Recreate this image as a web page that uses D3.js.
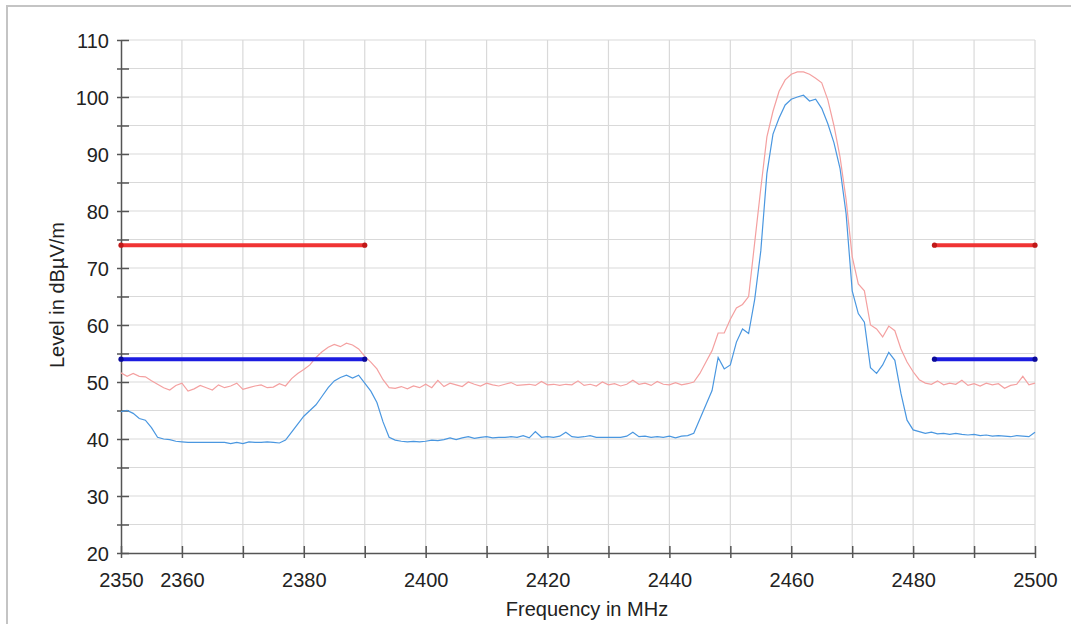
<!DOCTYPE html>
<html>
<head>
<meta charset="utf-8">
<script src="https://cdn.jsdelivr.net/npm/d3@7"></script>
<style>
  body { margin: 0; background: #fff; }
  svg text { font-family: "Liberation Sans", Arial, sans-serif; fill: #222; }
</style>
</head>
<body>
<div id="chart"></div>
<script>
// sweep: 2350 .. 2500 MHz, 1 MHz per point
const START_FREQ = 2350;

// blue trace (average detector), dBuV/m
const avgLevel = [
  44.8, 45.0, 44.5, 43.6, 43.3, 42.0, 40.3, 40.0, 39.9, 39.6,
  39.5, 39.4, 39.4, 39.4, 39.4, 39.4, 39.4, 39.4, 39.2, 39.4,
  39.2, 39.5, 39.4, 39.4, 39.5, 39.4, 39.3, 39.8, 41.2, 42.6,
  44.0, 45.0, 46.0, 47.5, 49.0, 50.2, 50.8, 51.2, 50.7, 51.2,
  49.8, 48.4, 46.4, 43.0, 40.3, 39.8, 39.6, 39.5, 39.6, 39.5,
  39.6, 39.8, 39.7, 39.9, 40.2, 39.9, 40.2, 40.4, 40.1, 40.3,
  40.4, 40.2, 40.3, 40.3, 40.4, 40.3, 40.6, 40.2, 41.3, 40.3,
  40.4, 40.3, 40.5, 41.2, 40.4, 40.3, 40.4, 40.6, 40.3, 40.3,
  40.3, 40.3, 40.3, 40.5, 41.2, 40.4, 40.5, 40.3, 40.4, 40.3,
  40.5, 40.2, 40.5, 40.6, 41.0, 43.5, 46.0, 48.5, 54.3, 52.3,
  53.0, 57.0, 59.3, 58.5, 64.5, 73.0, 86.6, 93.5, 96.3, 98.6,
  99.6, 100.0, 100.3, 99.3, 99.6, 98.0, 95.3, 92.0, 87.5, 79.5,
  66.0, 62.0, 60.5, 52.5, 51.5, 53.0, 55.2, 53.8, 48.0, 43.3,
  41.6, 41.3, 41.0, 41.2, 40.9, 41.0, 40.8, 41.0, 40.8, 40.7,
  40.8, 40.6, 40.7, 40.5, 40.6, 40.5, 40.4, 40.6, 40.5, 40.4,
  41.2
];

// red trace (peak detector), dBuV/m
const peakLevel = [
  51.6, 51.0, 51.5, 51.0, 50.9, 50.2, 49.6, 49.0, 48.6, 49.4,
  49.8, 48.4, 48.8, 49.4, 49.0, 48.6, 49.5, 49.0, 49.3, 49.8,
  48.7, 49.0, 49.3, 49.5, 49.0, 49.1, 49.7, 49.3, 50.6, 51.5,
  52.2, 53.0, 54.3, 55.3, 56.1, 56.6, 56.2, 56.8, 56.5, 55.8,
  54.5, 53.5, 52.3, 50.4, 49.0, 48.9, 49.2, 48.8, 49.3, 49.0,
  49.6, 49.0, 50.3, 49.2, 49.8, 49.5, 49.2, 50.0, 49.6, 49.3,
  49.8, 49.5, 49.3, 49.6, 49.9, 49.4, 49.5, 49.6, 49.4, 50.1,
  49.5, 49.6, 49.4, 49.6, 49.5, 50.2, 49.4, 49.6, 49.3, 50.0,
  49.5, 49.7, 49.3, 49.6, 50.3, 49.6, 49.8, 49.4, 50.1, 49.6,
  49.5, 49.9, 49.5, 49.7, 50.0, 51.5, 53.5, 55.5, 58.6, 58.6,
  61.0, 63.0, 63.6, 65.0, 74.5, 84.0, 93.0, 97.5, 101.0, 103.0,
  104.0, 104.4, 104.4, 104.0, 103.3, 102.5, 99.5, 95.0, 89.5, 82.0,
  72.0, 67.2, 66.0, 60.0, 59.3, 57.9, 59.8, 59.0, 55.8, 53.5,
  51.8, 50.4, 49.8, 49.6, 50.2, 49.5, 49.8, 49.6, 50.3, 49.4,
  49.7, 49.3, 49.8, 49.5, 49.7, 48.9, 49.4, 49.6, 51.0, 49.5,
  49.8
];

// restricted band limits
const peakLimit = [
  { from: 2350, to: 2390, level: 74 },
  { from: 2483.5, to: 2500, level: 74 }
];
const avgLimit = [
  { from: 2350, to: 2390, level: 54 },
  { from: 2483.5, to: 2500, level: 54 }
];

const xTicks = d3.range(2350, 2501, 10);
const xTickLabels = [2350, 2360, 2380, 2400, 2420, 2440, 2460, 2480, 2500];
const yTicks = d3.range(20, 111, 5);
const yTickLabels = [20, 30, 40, 50, 60, 70, 80, 90, 100, 110];

const width = 1071, height = 624;
const plotLeft = 121, plotRight = 1035, plotTop = 40, plotBottom = 553;

const svg = d3.select("#chart").append("svg")
  .attr("width", width).attr("height", height);

// outer frame
svg.append("path")
  .attr("d", `M7,${height} V6 H${width}`)
  .attr("fill", "none").attr("stroke", "#c4c4c4").attr("stroke-width", 2);

const x = d3.scaleLinear().domain([2350, 2500]).range([plotLeft, plotRight]);
const y = d3.scaleLinear().domain([20, 110]).range([plotBottom, plotTop]);

// grid
const grid = svg.append("g").attr("stroke", "#d9d9d9").attr("stroke-width", 1.2);
grid.selectAll(".gy").data(yTicks.filter(d => d > 20)).enter().append("line")
  .attr("x1", plotLeft).attr("x2", plotRight)
  .attr("y1", d => y(d)).attr("y2", d => y(d));
grid.selectAll(".gx").data(xTicks.filter(d => d > 2350)).enter().append("line")
  .attr("x1", d => x(d)).attr("x2", d => x(d))
  .attr("y1", plotTop).attr("y2", plotBottom);

// axes
const xAxis = svg.append("g").attr("transform", `translate(0,${plotBottom})`)
  .call(d3.axisBottom(x).tickValues(xTicks).tickSizeOuter(0)
    .tickFormat(d => xTickLabels.includes(d) ? d : ""));
xAxis.selectAll(".tick line").attr("y1", -7).attr("y2", 5);
xAxis.selectAll(".tick text").attr("y", 34).attr("dy", 0);

const yAxis = svg.append("g").attr("transform", `translate(${plotLeft},0)`)
  .call(d3.axisLeft(y).tickValues(yTicks).tickSizeOuter(0)
    .tickFormat(d => yTickLabels.includes(d) ? d : ""));
yAxis.selectAll(".tick line").attr("x1", -4).attr("x2", 8);
yAxis.selectAll(".tick text").attr("x", -12).attr("dy", "0.36em");

svg.selectAll(".domain").attr("stroke", "#555").attr("stroke-width", 1.5);
svg.selectAll(".tick line").attr("stroke", "#555").attr("stroke-width", 1.5);
svg.selectAll(".tick text").attr("font-size", 20).style("fill", "#222")
  .attr("font-family", "Liberation Sans, Arial, sans-serif");

// axis titles
svg.append("text")
  .attr("x", 587).attr("y", 616)
  .attr("text-anchor", "middle").attr("font-size", 20)
  .text("Frequency in MHz");
svg.append("text")
  .attr("transform", "translate(64,295) rotate(-90)")
  .attr("text-anchor", "middle").attr("font-size", 20)
  .text("Level in dBµV/m");

// traces
const line = d3.line()
  .x((d, i) => x(START_FREQ + i))
  .y(d => y(d));

svg.append("path").datum(peakLevel)
  .attr("d", line).attr("fill", "none")
  .attr("stroke", "#f4a0a0").attr("stroke-width", 1.2);
svg.append("path").datum(avgLevel)
  .attr("d", line).attr("fill", "none")
  .attr("stroke", "#4a97e0").attr("stroke-width", 1.2);

// limit lines
const drawLimit = (segs, color, dot) => {
  const g = svg.append("g");
  g.selectAll("line").data(segs).enter().append("line")
    .attr("x1", d => x(d.from)).attr("x2", d => x(d.to))
    .attr("y1", d => y(d.level)).attr("y2", d => y(d.level))
    .attr("stroke", color).attr("stroke-width", 4);
  const ends = [];
  segs.forEach(s => { ends.push([s.from, s.level]); ends.push([s.to, s.level]); });
  g.selectAll("circle").data(ends).enter().append("circle")
    .attr("cx", d => x(d[0])).attr("cy", d => y(d[1])).attr("r", 2.6)
    .attr("fill", dot);
};
drawLimit(peakLimit, "#f03434", "#c01818");
drawLimit(avgLimit, "#1c1ce0", "#0a0a9a");
</script>
</body>
</html>
